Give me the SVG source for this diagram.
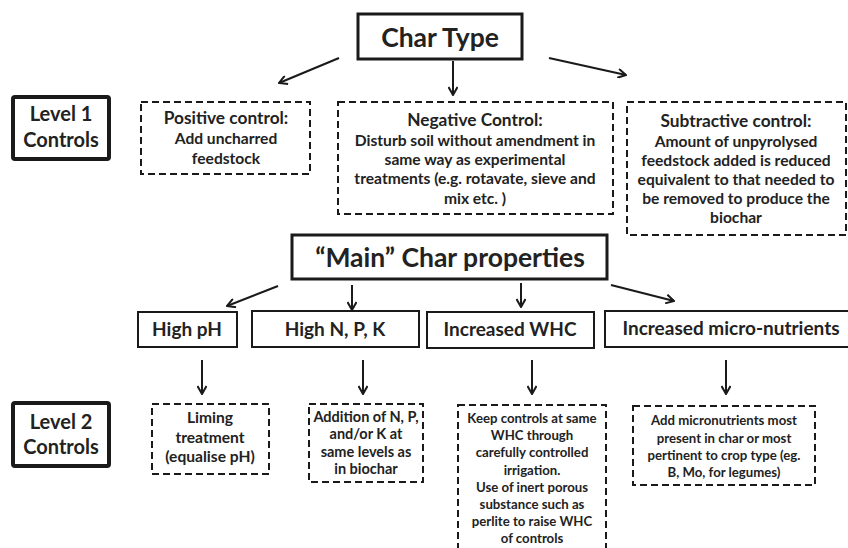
<svg xmlns="http://www.w3.org/2000/svg" width="848" height="548" viewBox="0 0 848 548">
<defs>
<marker id="ah" viewBox="0 0 10 10" refX="9" refY="5" markerWidth="10" markerHeight="10" markerUnits="userSpaceOnUse" orient="auto">
<path d="M1,0.5 L9,5 L1,9.5" fill="none" stroke="#1a1a1a" stroke-width="2"/>
</marker>
</defs>
<style>
text{font-family:Lato,"Open Sans","Liberation Sans",sans-serif;font-weight:bold;fill:#222;text-anchor:middle}
.title{font-size:26.5px}
.lvl{font-size:20px}
.hd{font-size:17.3px}
.b1{font-size:15.6px}
.b2{font-size:13.2px}
.b3{font-size:14.5px}
.prop{font-size:19px}
.solid{fill:#fff;stroke:#1a1a1a;stroke-width:3}
.lvlbox{fill:#fff;stroke:#1a1a1a;stroke-width:4;rx:2}
.pbox{fill:#fff;stroke:#1a1a1a;stroke-width:2}
.dash{fill:#fff;stroke:#1a1a1a;stroke-width:2;stroke-dasharray:7 4}
.conn line{stroke:#1a1a1a;stroke-width:2;marker-end:url(#ah)}
</style>
<rect width="848" height="548" fill="#fff"/>

<g id="char-type"><rect class="solid" x="358" y="14" width="164" height="45"/><text class="title" x="440" y="47">Char Type</text></g>

<g id="level1"><rect class="lvlbox" x="13" y="97" width="96" height="62"/><text class="lvl" x="61" y="121">Level 1</text><text class="lvl" x="61" y="147">Controls</text></g>

<g id="positive"><rect class="dash" x="141" y="102" width="169" height="72"/>
<text class="hd" x="226" y="124">Positive control:</text>
<text class="b1" x="226" y="144">Add uncharred</text>
<text class="b1" x="226" y="164">feedstock</text></g>

<g id="negative"><rect class="dash" x="338" y="102" width="275" height="112"/>
<text class="hd" x="475" y="126">Negative Control:</text>
<text class="b1" x="475" y="146">Disturb soil without amendment in</text>
<text class="b1" x="475" y="165">same way as experimental</text>
<text class="b1" x="475" y="184">treatments (e.g. rotavate, sieve and</text>
<text class="b1" x="475" y="204">mix etc. )</text></g>

<g id="subtractive"><rect class="dash" x="627" y="102" width="219" height="133"/>
<text class="hd" x="736" y="127">Subtractive control:</text>
<text class="b1" x="736" y="147">Amount of unpyrolysed</text>
<text class="b1" x="736" y="166">feedstock added is reduced</text>
<text class="b1" x="736" y="185">equivalent to that needed to</text>
<text class="b1" x="736" y="204">be removed to produce the</text>
<text class="b1" x="736" y="223">biochar</text></g>

<g id="main"><rect class="solid" x="292" y="235" width="315" height="44"/><text class="title" x="450" y="267">“Main” Char properties</text></g>

<g id="high-ph"><rect class="pbox" x="138" y="312" width="99" height="35"/><text class="prop" x="187" y="336">High pH</text></g>
<g id="high-npk"><rect class="pbox" x="252" y="311" width="167" height="36"/><text class="prop" x="335" y="336">High N, P, K</text></g>
<g id="inc-whc"><rect class="pbox" x="427" y="312" width="167" height="36"/><text class="prop" x="510" y="336">Increased WHC</text></g>
<g id="inc-micro"><rect class="pbox" x="605" y="311" width="250" height="36"/><text class="prop" x="731" y="335">Increased micro-nutrients</text></g>

<g id="level2"><rect class="lvlbox" x="13" y="403" width="96" height="63"/><text class="lvl" x="61" y="429">Level 2</text><text class="lvl" x="61" y="454">Controls</text></g>

<g id="liming"><rect class="dash" x="152" y="404" width="117" height="70"/>
<text class="b1" x="210" y="423">Liming</text>
<text class="b1" x="210" y="443">treatment</text>
<text class="b1" x="210" y="462">(equalise pH)</text></g>

<g id="addition"><rect class="dash" x="309" y="404" width="114" height="78"/>
<text class="b3" x="366" y="422">Addition of N, P,</text>
<text class="b3" x="366" y="439">and/or K at</text>
<text class="b3" x="366" y="457">same levels as</text>
<text class="b3" x="366" y="474">in biochar</text></g>

<g id="whc-control"><rect class="dash" x="458" y="405" width="148" height="150"/>
<text class="b2" x="532" y="423">Keep controls at same</text>
<text class="b2" x="532" y="440">WHC through</text>
<text class="b2" x="532" y="457">carefully controlled</text>
<text class="b2" x="532" y="475">irrigation.</text>
<text class="b2" x="532" y="492">Use of inert porous</text>
<text class="b2" x="532" y="509">substance such as</text>
<text class="b2" x="532" y="526">perlite to raise WHC</text>
<text class="b2" x="532" y="543">of controls</text></g>

<g id="micro-control"><rect class="dash" x="633" y="406" width="182" height="79"/>
<text class="b2" x="724" y="425">Add micronutrients most</text>
<text class="b2" x="724" y="443">present in char or most</text>
<text class="b2" x="724" y="460">pertinent to crop type (eg.</text>
<text class="b2" x="724" y="477">B, Mo, for legumes)</text></g>

<g id="connectors" class="conn">
<line x1="339" y1="58" x2="279" y2="83"/>
<line x1="453" y1="61" x2="453" y2="95"/>
<line x1="549" y1="58" x2="626" y2="75"/>
<line x1="278" y1="286" x2="227" y2="306"/>
<line x1="352" y1="285" x2="352" y2="310"/>
<line x1="521" y1="283" x2="521" y2="307"/>
<line x1="611" y1="285" x2="674" y2="301"/>
<line x1="202" y1="360" x2="202" y2="394"/>
<line x1="363" y1="360" x2="363" y2="394"/>
<line x1="532" y1="360" x2="532" y2="394"/>
<line x1="726" y1="360" x2="726" y2="394"/>
</g>
</svg>
